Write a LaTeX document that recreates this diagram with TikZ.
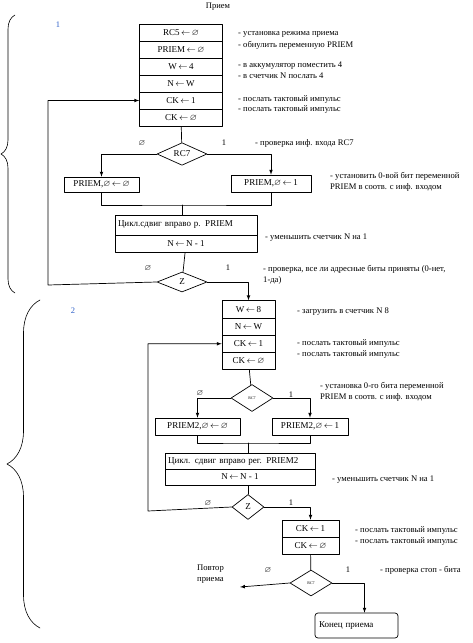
\documentclass[tikz,border=0pt]{standalone}
\usepackage{amssymb}
\usepackage{fontspec}
\setmainfont{Liberation Serif}
\usetikzlibrary{shapes.geometric,decorations.pathreplacing}
\definecolor{seclabel}{RGB}{45,95,200}
\newcommand{\asg}{\,$\leftarrow$\,}
\newcommand{\zro}{$\varnothing$}
\begin{document}
\begin{tikzpicture}[x=1pt, y=-1pt, line cap=round, line join=round, >=latex,
    every node/.style={font=\fontsize{9}{10}\selectfont},
    row/.style={draw, line width=0.7pt, minimum height=17pt, inner sep=1pt},
    cond/.style={draw, line width=0.7pt, diamond, inner sep=0pt},
    note/.style={anchor=west, align=left, inner sep=0pt, font=\fontsize{8.6}{11}\selectfont},
    flag/.style={inner sep=0pt, font=\fontsize{8.5}{9}\selectfont},
    link/.style={line width=0.7pt}]
    \useasboundingbox (0,0) rectangle (472,643);
    \node[flag] (title) at (218,7) {Прием};
    \node[flag, text=seclabel] (sec1) at (58,25) {1};
    \node[flag, text=seclabel] (sec2) at (73,311) {2};
    \draw[line width=0.6pt, decorate, decoration={brace, amplitude=14pt}] (15,293) -- (15,15);
    \draw[line width=0.6pt, decorate, decoration={brace, amplitude=33pt}] (40,628) -- (40,300);

    \foreach \t [count=\i] in {RC5\asg\zro, PRIEM\asg\zro, W\asg 4, N\asg W, CK\asg 1, CK\asg\zro}
      \node[row, minimum width=83pt] (a\i) at (181,15.5+17*\i) {\t};
    \node[cond, minimum width=50pt, minimum height=17pt] (rcA) at (182,154) {RC7};
    \node[row, minimum width=75pt, minimum height=15pt] (p0) at (101.5,184.5) {PRIEM,\zro\asg\zro};
    \node[row, minimum width=80pt] (p1) at (271,183.5) {PRIEM,\zro\asg 1};
    \node[row, minimum width=142pt, minimum height=20pt, text width=136pt, align=left] (s1) at (186,225) {Цикл.сдвиг вправо р. PRIEM};
    \node[row, minimum width=142pt] (s2) at (186,243.5) {N\asg N - 1};
    \node[cond, minimum width=50pt, minimum height=20pt] (zA) at (182,282) {Z};

    \foreach \t [count=\i] in {W\asg 8, N\asg W, CK\asg 1, CK\asg\zro}
      \node[row, minimum width=53pt, minimum height=17.25pt] (b\i) at (248.5,292+17.25*\i) {\t};
    \node[cond, minimum width=42pt, minimum height=27pt, font=\fontsize{4}{4}\selectfont] (rcB) at (252,398) {RC7};
    \node[row, minimum width=85pt] (q0) at (197.5,426.5) {PRIEM2,\zro\asg\zro};
    \node[row, minimum width=76pt] (q1) at (310,426.5) {PRIEM2,\zro\asg 1};
    \node[row, minimum width=150pt, minimum height=16pt, text width=144pt, align=left] (d1) at (240,461) {Цикл. сдвиг вправо рег. PRIEM2};
    \node[row, minimum width=150pt, minimum height=16pt] (d2) at (240,477) {N\asg N - 1};
    \node[cond, minimum width=32pt, minimum height=25pt] (zB) at (248,507) {Z};
    \node[row, minimum width=57pt] (e1) at (310.5,528.5) {CK\asg 1};
    \node[row, minimum width=57pt] (e2) at (310.5,545.5) {CK\asg\zro};
    \node[cond, minimum width=42pt, minimum height=26pt, font=\fontsize{4}{4}\selectfont] (rcC) at (311,583) {RC7};
    \node[row, rounded corners=3pt, minimum width=83pt, minimum height=25pt, text width=75pt, align=left] (end) at (356.5,625.5) {Конец приема};
    \node[note] (rep) at (197,574) {Повтор\\приема};

    \node[flag] at (142,143) {\zro};
    \node[flag] at (224,143) {1};
    \node[flag] at (148,268) {\zro};
    \node[flag] at (228,268) {1};
    \node[flag] at (200,393) {\zro};
    \node[flag] at (291,395) {1};
    \node[flag] at (208,503) {\zro};
    \node[flag] at (291,503) {1};
    \node[flag] at (268,570) {\zro};
    \node[flag] at (348,570) {1};

    \node[note] (n1) at (238,34) {- установка режима приема};
    \node[note] (n2) at (238,45) {- обнулить переменную PRIEM};
    \node[note] (n3) at (238,66) {- в аккумулятор поместить 4};
    \node[note] (n4) at (238,76) {- в счетчик N послать 4};
    \node[note] (n5) at (238,99) {- послать тактовый импульс};
    \node[note] (n6) at (238,109) {- послать тактовый импульс};
    \node[note] (n7) at (255,143) {- проверка инф. входа RC7};
    \node[note] (n8) at (330,182) {- установить 0-вой бит переменной\\PRIEM в соотв. с инф. входом};
    \node[note] (n9) at (265,238) {- уменьшить счетчик N на 1};
    \node[note] (n10) at (263,275) {- проверка, все ли адресные биты приняты (0-нет,\\1-да)};
    \node[note] (n11) at (297,312) {- загрузить в счетчик N 8};
    \node[note] (n12) at (297,343) {- послать тактовый импульс};
    \node[note] (n13) at (297,354) {- послать тактовый импульс};
    \node[note] (n14) at (320,392) {- установка 0-го бита переменной\\PRIEM в соотв. с инф. входом};
    \node[note] (n15) at (332,480) {- уменьшить счетчик N на 1};
    \node[note] (n16) at (355,530) {- послать тактовый импульс};
    \node[note] (n17) at (355,541) {- послать тактовый импульс};
    \node[note] (n18) at (380,570) {- проверка стоп - бита};

    \coordinate (j1) at (182,205);
    \coordinate (c1) at (48,285);
    \coordinate (j2) at (248,443);
    \coordinate (c2) at (148,511);
    \coordinate (back) at (240,587);
    \draw[link] (a6) -- (rcA);
    \draw[link,->] (rcA.west) -| (p0.north);
    \draw[link,->] (rcA.east) -| (p1.north);
    \draw[link] (p0.south) |- (j1) -| (p1.south);
    \draw[link] (j1) -- (j1 |- s1.north);
    \draw[link] (s2) -- (zA);
    \draw[link,->] (zA.west) -- (c1) |- (a5.west);
    \draw[link,->] (zA.east) -| (b1.north);
    \draw[link] (b4) -- (rcB);
    \draw[link,->] (rcB.west) -| (q0.north);
    \draw[link,->] (rcB.east) -| (q1.north);
    \draw[link] (q0.south) |- (j2) -| (q1.south);
    \draw[link] (j2) -- (j2 |- d1.north);
    \draw[link] (zB |- d2.south) -- (zB);
    \draw[link,->] (zB.west) -- (c2) |- (b3.west);
    \draw[link,->] (zB.east) -| (e1.north);
    \draw[link] (e2) -- (rcC);
    \draw[link,->] (rcC.west) -- (back);
    \draw[link,->] (rcC.east) -| ([xshift=8pt]end.north);
  \end{tikzpicture}
\end{document}
